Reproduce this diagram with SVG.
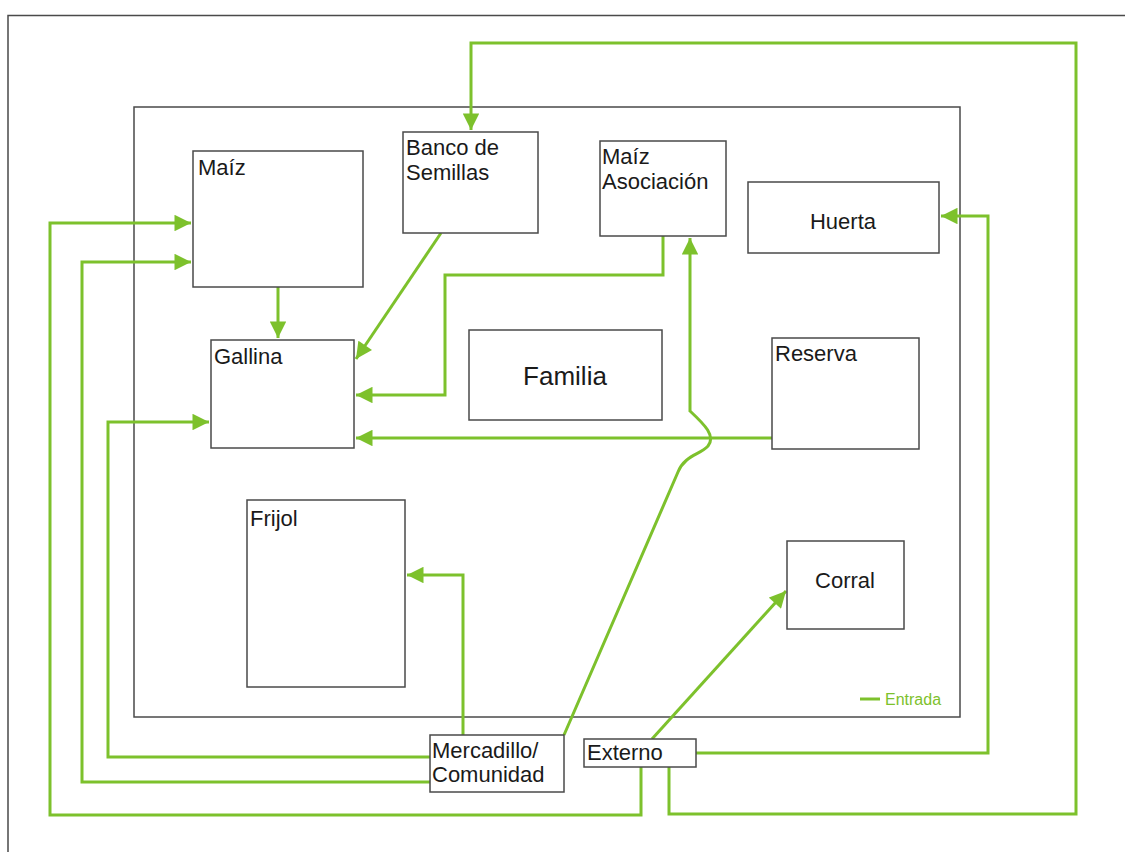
<svg xmlns="http://www.w3.org/2000/svg" width="1125" height="852" viewBox="0 0 1125 852">
<defs>
<marker id="ah" viewBox="0 0 10 10" refX="10" refY="5" markerWidth="6" markerHeight="5.5" markerUnits="strokeWidth" orient="auto">
<path d="M0,0 L10,5 L0,10 Z" fill="#7dc12c"/>
</marker>
<style>
.box{fill:#fff;stroke:#4a4a4a;stroke-width:1.5}
.t{font-family:"Liberation Sans",Arial,sans-serif;font-size:22px;fill:#1a1a1a}
.c{fill:none;stroke:#7dc12c;stroke-width:3}
.a{marker-end:url(#ah)}
</style>
</defs>
<rect width="1125" height="852" fill="#fff"/>
<path d="M8,852 V15.5 H1125" fill="none" stroke="#4a4a4a" stroke-width="1.5"/>
<rect x="134" y="107" width="826" height="610" fill="none" stroke="#4a4a4a" stroke-width="1.5"/>
<g id="connectors">
<path class="c a" d="M669,767 V814 H1076 V43 H471 V130"/>
<path class="c a" d="M641,767 V815 H50 V223 H191"/>
<path class="c a" d="M430,782 H82 V262 H191"/>
<path class="c a" d="M430,757 H108 V422 H209"/>
<path class="c a" d="M463,735 V575 H407"/>
<path class="c a" d="M564,735 L678,472 C685,455 700,455 708,446 C716,436 705,425 690,411 V238"/>
<path class="c a" d="M652,739 L786,591"/>
<path class="c a" d="M696,753 H988 V216 H941"/>
<path class="c a" d="M278,287 V338"/>
<path class="c a" d="M441,233 L356,359"/>
<path class="c a" d="M663,236 V275 H445 V395 H356"/>
<path class="c a" d="M772,438 H356"/>
</g>
<g id="maiz"><rect class="box" x="193" y="151" width="170" height="136"/><text class="t" x="198" y="175">Maíz</text></g>
<g id="banco"><rect class="box" x="403" y="132" width="135" height="101"/><text class="t" x="406" y="155">Banco de</text><text class="t" x="406" y="180">Semillas</text></g>
<g id="maiz-asociacion"><rect class="box" x="600" y="141" width="126" height="95"/><text class="t" x="602" y="164">Maíz</text><text class="t" x="602" y="189">Asociación</text></g>
<g id="huerta"><rect class="box" x="748" y="182" width="191" height="71"/><text class="t" x="843" y="229" text-anchor="middle">Huerta</text></g>
<g id="gallina"><rect class="box" x="211" y="340" width="143" height="108"/><text class="t" x="214" y="364">Gallina</text></g>
<g id="familia"><rect class="box" x="469" y="330" width="193" height="90"/><text class="t" x="565" y="385" text-anchor="middle" style="font-size:26px">Familia</text></g>
<g id="reserva"><rect class="box" x="772" y="338" width="147" height="111"/><text class="t" x="775" y="361">Reserva</text></g>
<g id="frijol"><rect class="box" x="247" y="500" width="158" height="187"/><text class="t" x="250" y="526">Frijol</text></g>
<g id="corral"><rect class="box" x="787" y="541" width="117" height="88"/><text class="t" x="845" y="588" text-anchor="middle">Corral</text></g>
<g id="mercadillo"><rect class="box" x="430" y="735" width="134" height="57"/><text class="t" x="432" y="758">Mercadillo/</text><text class="t" x="432" y="782">Comunidad</text></g>
<g id="externo"><rect class="box" x="584" y="739" width="112" height="28"/><text class="t" x="587" y="760">Externo</text></g>
<g id="legend"><line x1="860" y1="699" x2="880" y2="699" stroke="#7dc12c" stroke-width="3"/><text x="885" y="705" style="font-family:'Liberation Sans',Arial,sans-serif;font-size:16px;fill:#7dc12c">Entrada</text></g>
</svg>
